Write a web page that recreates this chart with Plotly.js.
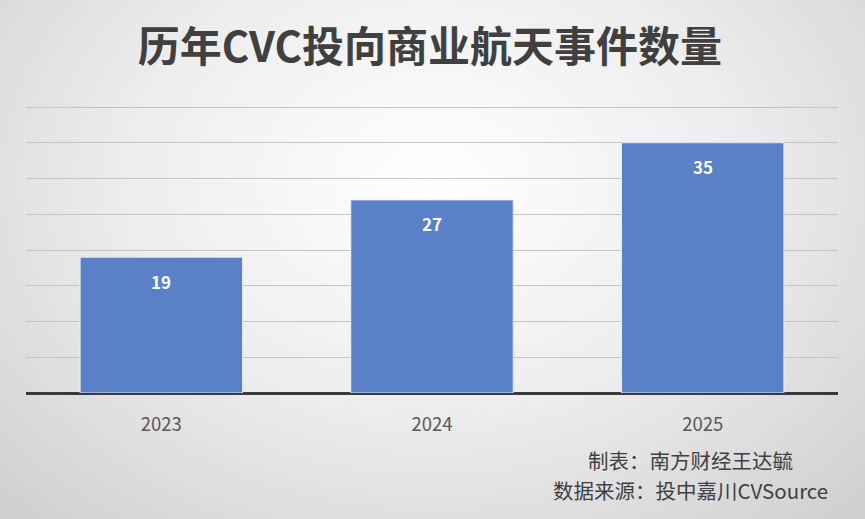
<!DOCTYPE html>
<html>
<head>
<meta charset="utf-8">
<script src="https://cdn.plot.ly/plotly-3.0.1.min.js"></script>
<style>
html,body{margin:0;padding:0;}
body{width:865px;height:519px;overflow:hidden;
background:radial-gradient(ellipse 75% 95% at 50% 35%, #ffffff 0%, #eeeeee 45%, #cccccc 100%);}
#chart{width:865px;height:519px;}
</style>
</head>
<body>
<div id="chart"></div>
<script>
var years = ['2023', '2024', '2025'];
var counts = [19, 27, 35];
var titleText = '历年CVC投向商业航天事件数量';
var footer1 = '制表：南方财经王达毓';
var footer2 = '数据来源：投中嘉川CVSource';

var font = '"Noto Sans CJK SC", "Noto Sans", sans-serif';

var trace = {
  type: 'bar',
  x: years,
  y: counts,
  marker: {color: '#5a80c8', line: {color: 'rgba(235,240,250,0.9)', width: 1}},
  hoverinfo: 'none'
};

var annotations = years.map(function (yr, i) {
  return {
    x: i, y: counts[i], xref: 'x', yref: 'y',
    text: '<b>' + counts[i] + '</b>', showarrow: false,
    yshift: -24, font: {family: font, size: 17, color: '#ffffff'}
  };
});
annotations.push({
  xref: 'paper', yref: 'paper', x: 0.818, y: -0.232, xanchor: 'center', yanchor: 'middle',
  text: footer1, showarrow: false, font: {family: font, size: 20.5, color: '#404040'}
});
annotations.push({
  xref: 'paper', yref: 'paper', x: 0.818, y: -0.337, xanchor: 'center', yanchor: 'middle',
  text: footer2, showarrow: false, font: {family: font, size: 20.5, color: '#404040'}
});

var layout = {
  width: 865, height: 519,
  paper_bgcolor: 'rgba(0,0,0,0)',
  plot_bgcolor: 'rgba(0,0,0,0)',
  margin: {l: 26, r: 27, t: 104, b: 126},
  title: {text: '<b>' + titleText + '</b>', x: 0.497, xanchor: 'center', y: 0.908, yanchor: 'middle',
          font: {family: font, size: 42, color: '#404040'}},
  bargap: 0.4,
  showlegend: false,
  xaxis: {
    type: 'category', range: [-0.5, 2.5],
    tickfont: {family: font, size: 18.5, color: '#595959'},
    showgrid: false, zeroline: false,
    showline: false, ticks: 'outside', ticklen: 15, tickcolor: 'rgba(0,0,0,0)'
  },
  yaxis: {
    range: [0, 40.42], tickvals: [5, 10, 15, 20, 25, 30, 35, 40], showticklabels: false,
    showgrid: true, gridcolor: '#c4c4c4', gridwidth: 1,
    zeroline: true, zerolinecolor: '#3a3a3a', zerolinewidth: 3,
    showline: false, ticks: ''
  },
  annotations: annotations
};

Plotly.newPlot('chart', [trace], layout, {displayModeBar: false, staticPlot: true});
</script>
</body>
</html>
